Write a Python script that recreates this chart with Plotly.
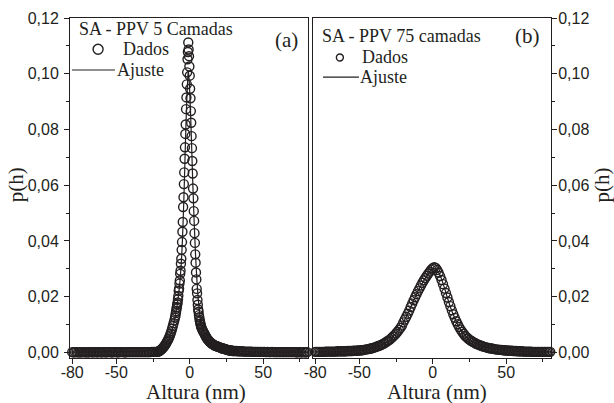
import numpy as np
import plotly.graph_objects as go

# ---------------- Panel (a): SA - PPV 5 camadas ----------------
# bin centres (nm)
a_x_tail_left = np.arange(-80, -22, 1.0)        # -80 .. -23
a_x_flank_left = np.arange(-22, -10, 0.5)       # -22 .. -10.5
a_x_core = np.arange(-10, 8.01, 0.25)           # -10 .. 8
a_x_flank_right = np.arange(8.5, 30.01, 0.5)    # 8.5 .. 30
a_x_tail_right = np.arange(31, 81, 1.0)         # 31 .. 80

a_y_tail_left = [0.0001, 0.0000, 0.0001, 0.0001, 0.0000, 0.0001, 0.0000, 0.0001, 0.0001, 0.0000,
                 0.0001, 0.0000, 0.0001, 0.0001, 0.0000, 0.0001, 0.0001, 0.0000, 0.0001, 0.0001,
                 0.0000, 0.0001, 0.0001, 0.0000, 0.0001, 0.0001, 0.0001, 0.0000, 0.0001, 0.0001,
                 0.0001, 0.0000, 0.0001, 0.0001, 0.0001, 0.0001, 0.0000, 0.0001, 0.0001, 0.0001,
                 0.0001, 0.0001, 0.0001, 0.0001, 0.0001, 0.0001, 0.0001, 0.0001, 0.0001, 0.0001,
                 0.0001, 0.0001, 0.0001, 0.0001, 0.0002, 0.0002, 0.0002, 0.0002]
a_y_flank_left = [0.0002, 0.0003, 0.0004, 0.0006, 0.0008, 0.0010, 0.0012, 0.0015, 0.0018, 0.0021,
                  0.0025, 0.0029, 0.0033, 0.0038, 0.0043, 0.0048, 0.0054, 0.0061, 0.0068, 0.0076,
                  0.0085, 0.0095, 0.0105, 0.0115]
a_y_core = [0.0125, 0.0132, 0.0141, 0.0148,
            0.0157, 0.0163, 0.0172, 0.0179,
            0.0191, 0.0203, 0.0221, 0.0229,
            0.0247, 0.0258, 0.0282, 0.0293,
            0.0318, 0.0336, 0.0368, 0.0396,
            0.0433, 0.0468, 0.0522, 0.0557,
            0.0604, 0.0646, 0.0695, 0.0736,
            0.0784, 0.0818, 0.0873, 0.0915,
            0.0962, 0.1005, 0.1052, 0.1078,
            0.1112, 0.1087, 0.1063, 0.1026,
            0.0993, 0.0946, 0.0912, 0.0866,
            0.0824, 0.0776, 0.0733, 0.0687,
            0.0642, 0.0588, 0.0553, 0.0507,
            0.0472, 0.0428, 0.0393, 0.0352,
            0.0322, 0.0287, 0.0262, 0.0228,
            0.0212, 0.0188, 0.0171, 0.0154,
            0.0146, 0.0134, 0.0126, 0.0116,
            0.0111, 0.0103, 0.0099, 0.0092,
            0.0089]
a_y_flank_right = [0.0082, 0.0077, 0.0072, 0.0067, 0.0062, 0.0057, 0.0052, 0.0048, 0.0045, 0.0042,
                   0.0039, 0.0036, 0.0034, 0.0032, 0.0030, 0.0028, 0.0027, 0.0025, 0.0024, 0.0023,
                   0.0022, 0.0021, 0.0020, 0.0019, 0.0018, 0.0017, 0.0016, 0.0015, 0.0014, 0.0013,
                   0.0013, 0.0012, 0.0011, 0.0010, 0.0010, 0.0009, 0.0008, 0.0008, 0.0007, 0.0007,
                   0.0006, 0.0006, 0.0005, 0.0005]
a_y_tail_right = [0.0005, 0.0005, 0.0004, 0.0004, 0.0004, 0.0004, 0.0003, 0.0003, 0.0003, 0.0003,
                  0.0003, 0.0003, 0.0002, 0.0002, 0.0002, 0.0002, 0.0002, 0.0002, 0.0002, 0.0002,
                  0.0002, 0.0001, 0.0002, 0.0001, 0.0001, 0.0002, 0.0001, 0.0001, 0.0001, 0.0001,
                  0.0001, 0.0001, 0.0001, 0.0001, 0.0001, 0.0001, 0.0001, 0.0001, 0.0001, 0.0001,
                  0.0001, 0.0001, 0.0000, 0.0001, 0.0001, 0.0000, 0.0001, 0.0001, 0.0000, 0.0001]

a_fit_x = [-80, -60, -40, -30, -25, -20, -17, -15, -13, -11, -10, -9, -8, -7, -6, -5.5, -5,
           -4.5, -4, -3.5, -3, -2.5, -2, -1.5, -1, -0.5, 0, 0.5, 1, 1.5, 2, 2.5, 3, 3.5, 4,
           4.5, 5, 6, 7, 8, 10, 12, 15, 20, 25, 30, 40, 60, 80]
a_fit_y = [0.0001, 0.0002, 0.0003, 0.0005, 0.0008, 0.0014, 0.0026, 0.0040, 0.0062, 0.0100,
           0.0125, 0.0155, 0.0190, 0.0235, 0.0300, 0.0345, 0.0400, 0.0470, 0.0550, 0.0640,
           0.0740, 0.0830, 0.0905, 0.0965, 0.1010, 0.0985, 0.0935, 0.0870, 0.0790, 0.0705,
           0.0620, 0.0545, 0.0470, 0.0405, 0.0345, 0.0295, 0.0250, 0.0180, 0.0130, 0.0095,
           0.0062, 0.0045, 0.0030, 0.0018, 0.0011, 0.0007, 0.0003, 0.0001, 0.0001]

# ---------------- Panel (b): SA - PPV 75 camadas ----------------
b_x = np.arange(-80, 81, 1.0)
b_y = [0.0002, 0.0002, 0.0002, 0.0002, 0.0002, 0.0002, 0.0002, 0.0003, 0.0003, 0.0003,
       0.0003, 0.0003, 0.0003, 0.0003, 0.0003, 0.0004, 0.0004, 0.0004, 0.0004, 0.0004,
       0.0004, 0.0004, 0.0005, 0.0005, 0.0005, 0.0005, 0.0006, 0.0006, 0.0006, 0.0007,
       0.0007, 0.0008, 0.0008, 0.0009, 0.0010, 0.0011, 0.0012, 0.0013, 0.0014, 0.0016,
       0.0017, 0.0019, 0.0021, 0.0023, 0.0025, 0.0027, 0.0030, 0.0033, 0.0036, 0.0040,
       0.0043, 0.0047, 0.0052, 0.0057, 0.0062, 0.0068, 0.0074, 0.0081, 0.0088, 0.0096,
       0.0108, 0.0118, 0.0128, 0.0139, 0.0150, 0.0163, 0.0175, 0.0187, 0.0198, 0.0209,
       0.0220, 0.0230, 0.0240, 0.0250, 0.0259, 0.0267, 0.0275, 0.0283, 0.0290, 0.0297,
       0.0302, 0.0306, 0.0303, 0.0296, 0.0286, 0.0274, 0.0260, 0.0245, 0.0229, 0.0213,
       0.0197, 0.0181, 0.0166, 0.0151, 0.0137, 0.0124, 0.0112, 0.0101, 0.0091, 0.0082,
       0.0074, 0.0067, 0.0060, 0.0055, 0.0050, 0.0046, 0.0042, 0.0039, 0.0036, 0.0033,
       0.0030, 0.0028, 0.0026, 0.0024, 0.0022, 0.0020, 0.0019, 0.0017, 0.0016, 0.0015,
       0.0014, 0.0013, 0.0012, 0.0011, 0.0010, 0.0010, 0.0009, 0.0009, 0.0008, 0.0008,
       0.0007, 0.0007, 0.0006, 0.0006, 0.0006, 0.0005, 0.0005, 0.0005, 0.0004, 0.0004,
       0.0004, 0.0004, 0.0003, 0.0003, 0.0003, 0.0003, 0.0003, 0.0003, 0.0002, 0.0002,
       0.0002, 0.0002, 0.0002, 0.0002, 0.0002, 0.0002, 0.0002, 0.0002, 0.0002, 0.0002,
       0.0002]
b_fit_x = [-80, -60, -50, -40, -35, -30, -25, -20, -16, -12, -8, -4, -2, 0, 1, 2, 4, 6, 8,
           10, 12, 14, 16, 18, 20, 25, 30, 35, 40, 50, 60, 80]
b_fit_y = [0.0002, 0.0004, 0.0007, 0.0017, 0.0026, 0.0043, 0.0068, 0.0108, 0.0150, 0.0198,
           0.0240, 0.0275, 0.0290, 0.0300, 0.0301, 0.0299, 0.0287, 0.0263, 0.0231, 0.0196,
           0.0163, 0.0135, 0.0111, 0.0090, 0.0074, 0.0046, 0.0030, 0.0020, 0.0014, 0.0007,
           0.0004, 0.0002]

x_tickvals = [-80, -50, 0, 50]
x_ticktext = ["-80", "-50", "0", "50"]
x_minor = [-25, 25, 75]
y_tickvals = [0.00, 0.02, 0.04, 0.06, 0.08, 0.10, 0.12]
y_ticktext = ["0,00", "0,02", "0,04", "0,06", "0,08", "0,10", "0,12"]
y_minor = [0.01, 0.03, 0.05, 0.07, 0.09, 0.11]

a_x = np.concatenate([a_x_tail_left, a_x_flank_left, a_x_core, a_x_flank_right, a_x_tail_right])
a_y = a_y_tail_left + a_y_flank_left + a_y_core + a_y_flank_right + a_y_tail_right

INK = "#231f20"
SERIF = "Liberation Serif"
SANS = "Liberation Sans"

marker_style = dict(symbol="circle-open", size=9, color=INK, line=dict(width=1.4, color=INK))

fig = go.Figure()
fig.add_trace(go.Scatter(x=a_x, y=a_y, mode="markers", name="Dados", marker=marker_style,
                         cliponaxis=False, xaxis="x", yaxis="y", showlegend=False))
fig.add_trace(go.Scatter(x=a_fit_x, y=a_fit_y, mode="lines", name="Ajuste", line=dict(color=INK, width=1.2),
                         line_shape="spline", xaxis="x", yaxis="y", showlegend=False))
fig.add_trace(go.Scatter(x=b_x, y=b_y, mode="markers", name="Dados", marker=marker_style,
                         cliponaxis=False, xaxis="x2", yaxis="y2", showlegend=False))
fig.add_trace(go.Scatter(x=b_fit_x, y=b_fit_y, mode="lines", name="Ajuste", line=dict(color=INK, width=1.2),
                         line_shape="spline", xaxis="x2", yaxis="y2", showlegend=False))

xcommon = dict(range=[-81.5, 80.5], tickmode="array", tickvals=x_tickvals, ticktext=x_ticktext,
               ticks="outside", ticklen=5, tickwidth=1, tickcolor=INK, automargin=False,
               ticklabelstandoff=-5,
               minor=dict(tickmode="array", tickvals=x_minor, ticks="outside", ticklen=3, tickcolor=INK),
               showline=True, linecolor=INK, linewidth=1, mirror=True, showgrid=False, zeroline=False,
               tickfont=dict(family=SANS, size=16, color=INK))
ycommon = dict(range=[-0.002, 0.12], tickmode="array", tickvals=y_tickvals, ticktext=y_ticktext,
               ticks="outside", ticklen=5, tickwidth=1, tickcolor=INK, automargin=False,
               minor=dict(tickmode="array", tickvals=y_minor, ticks="outside", ticklen=3, tickcolor=INK),
               showline=True, linecolor=INK, linewidth=1, mirror=True, showgrid=False, zeroline=False,
               tickfont=dict(family=SANS, size=16, color=INK))

TFONT = dict(family=SERIF, size=21, color=INK)
axis_titles = [
    dict(text="Altura (nm)", xref="x domain", yref="paper", x=0.53, y=-0.10, xanchor="center",
         yanchor="middle", showarrow=False, font=TFONT),
    dict(text="Altura (nm)", xref="x2 domain", yref="paper", x=0.52, y=-0.10, xanchor="center",
         yanchor="middle", showarrow=False, font=TFONT),
    dict(text="p(h)", xref="paper", yref="paper", x=-0.113, y=0.51, xanchor="center",
         yanchor="middle", textangle=-90, showarrow=False, font=TFONT),
    dict(text="p(h)", xref="paper", yref="paper", x=1.106, y=0.51, xanchor="center",
         yanchor="middle", textangle=-90, showarrow=False, font=TFONT),
]


def legend_items(xr, yr, title, tx, ty, cx, cy, csize, dx, lx0, lx1, ly, ax):
    ann = [
        dict(text=title, xref=xr, yref=yr, x=tx, y=ty, xanchor="left", yanchor="middle", showarrow=False,
             font=dict(family=SERIF, size=18, color=INK)),
        dict(text="Dados", xref=xr, yref=yr, x=dx, y=cy, xanchor="left", yanchor="middle", showarrow=False,
             font=dict(family=SERIF, size=18, color=INK)),
        dict(text="Ajuste", xref=xr, yref=yr, x=ax, y=ly, xanchor="left", yanchor="middle", showarrow=False,
             font=dict(family=SERIF, size=18, color=INK)),
    ]
    shp = [
        dict(type="circle", xref=xr, yref=yr, xsizemode="pixel", ysizemode="pixel",
             xanchor=cx, yanchor=cy, x0=-csize / 2, x1=csize / 2, y0=-csize / 2, y1=csize / 2,
             line=dict(color=INK, width=1.4)),
        dict(type="line", xref=xr, yref=yr, x0=lx0, x1=lx1, y0=ly, y1=ly, line=dict(color=INK, width=1.2)),
    ]
    return ann, shp


ann_a, shp_a = legend_items("x domain", "y domain", "SA - PPV 5 Camadas", 0.030, 0.968,
                            0.118, 0.908, 10, 0.215, 0.008, 0.189, 0.847, 0.190)
ann_b, shp_b = legend_items("x2 domain", "y2 domain", "SA - PPV 75 camadas", 0.030, 0.948,
                            0.113, 0.884, 7, 0.198, 0.042, 0.193, 0.826, 0.190)

fig.update_layout(
    width=614, height=403,
    margin=dict(l=70, r=63, t=18, b=45),
    paper_bgcolor="white", plot_bgcolor="white",
    separators=",.",
    xaxis=dict(domain=[0, 0.4948], anchor="y", **xcommon),
    yaxis=dict(domain=[0, 1], anchor="x", side="left", ticklabelstandoff=2, **ycommon),
    xaxis2=dict(domain=[0.5052, 1], anchor="y2", **xcommon),
    yaxis2=dict(domain=[0, 1], anchor="x2", side="right", ticklabelstandoff=-2, **ycommon),
    showlegend=False,
    annotations=ann_a + ann_b + axis_titles + [
        dict(text="(a)", xref="x domain", yref="y domain", x=0.908, y=0.935, xanchor="center",
             yanchor="middle", showarrow=False, font=dict(family=SERIF, size=21, color=INK)),
        dict(text="(b)", xref="x2 domain", yref="y2 domain", x=0.903, y=0.947, xanchor="center",
             yanchor="middle", showarrow=False, font=dict(family=SERIF, size=21, color=INK)),
    ],
    shapes=shp_a + shp_b,
)

fig.write_html("out.html", config={"displayModeBar": False},
               post_script="document.body.style.margin='0';")
